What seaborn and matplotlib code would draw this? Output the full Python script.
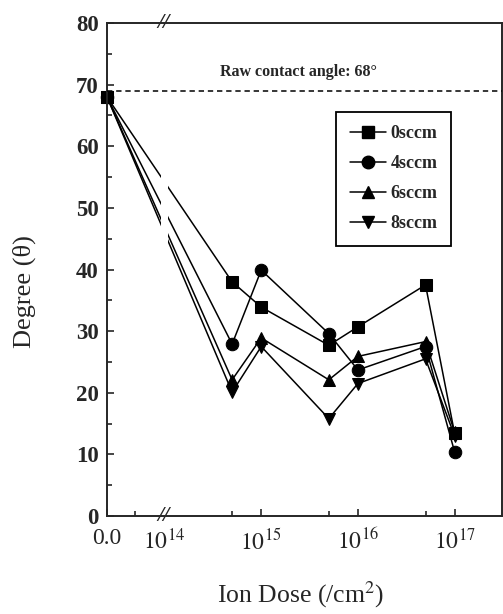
#!/usr/bin/env python3

import numpy as np
import matplotlib
matplotlib.use("Agg")
import matplotlib.pyplot as plt
import matplotlib.ticker as mticker
import matplotlib.transforms as mtransforms
from matplotlib.lines import Line2D
import seaborn as sns
import pandas as pd

sns.set_style("ticks")
plt.rcParams['font.family'] = ['Liberation Serif', 'DejaVu Serif']
plt.rcParams['mathtext.fontset'] = 'stix'

# ion dose (/cm2), 0 = untreated sample
dose = [0, 5e14, 1e15, 5e15, 1e16, 5e16, 1e17]
gas_flow = ["0sccm", "4sccm", "6sccm", "8sccm"]
deg_0sccm = [68, 38.0, 33.9, 27.7, 30.7, 37.5, 13.4]
deg_4sccm = [68, 27.9, 39.9, 29.6, 23.7, 27.5, 10.4]
deg_6sccm = [68, 22.1, 28.9, 22.1, 25.9, 28.3, 13.6]
deg_8sccm = [68, 20.1, 27.5, 15.8, 21.5, 25.5, 13.0]
raw_angle = 68

xticks = [0, 1e14, 1e15, 1e16, 1e17]
xticklabels = ["0.0", "$10^{14}$", "$10^{15}$", "$10^{16}$", "$10^{17}$"]
xminor = [5e13, 5e14, 5e15, 5e16]

OFFSET = 0.595  # position of 1e14 (in decades) right of the 0.0 point


def forward(d):
    d = np.asarray(d, dtype=float)
    p = OFFSET + np.log10(np.maximum(d, 1e-300)) - 14
    return np.where(d > 0, np.maximum(p, 0), 0)


def inverse(p):
    p = np.asarray(p, dtype=float)
    return np.where(p > 0, 10 ** (np.minimum(p, 300) - OFFSET + 14), 0)


def main():
    rows = []
    for name, vals in zip(gas_flow, [deg_0sccm, deg_4sccm, deg_6sccm, deg_8sccm]):
        for d, v in zip(dose, vals):
            rows.append({"dose": d, "degree": v, "gas": name})
    df = pd.DataFrame(rows)

    fig = plt.figure(figsize=(5.03, 6.14), dpi=100)
    ax = fig.add_axes([107 / 503, 1 - 516 / 614, 395 / 503, 493 / 614])
    ax.set_xscale('function', functions=(forward, inverse))

    markers = {"0sccm": "s", "4sccm": "o", "6sccm": "^", "8sccm": "v"}
    sns.lineplot(
        data=df, x="dose", y="degree", style="gas", markers=markers,
        dashes=False, color="black", markersize=9, markeredgecolor="black",
        linewidth=1.1, ax=ax, clip_on=False, legend=False,
    )

    # axis break: white gap over the lines around 1e14
    ax.axvspan(10 ** (14 - 0.035), 10 ** (14 + 0.035), color="white", zorder=2.2, lw=0)
    trans = mtransforms.blended_transform_factory(ax.transData, ax.transAxes)
    for yy in (0, 1):
        ax.text(10 ** (14 - 0.01), yy, "//", transform=trans, ha="center", va="center",
                fontsize=16, fontweight="bold", fontstyle="italic", zorder=4, clip_on=False)

    ax.axhline(raw_angle + 1, color="black", ls=(0, (3.5, 2.5)), lw=1.1, zorder=3)
    ax.text(0.485, 0.9, "Raw contact angle: 68\u00b0", transform=ax.transAxes,
            ha="center", va="center", fontsize=11.5, fontweight="bold")

    ax.set_xlim(0, 10 ** (17.49))
    ax.set_ylim(0, 80)
    ax.xaxis.set_major_locator(mticker.FixedLocator(xticks))
    ax.xaxis.set_major_formatter(mticker.FixedFormatter(xticklabels))
    ax.xaxis.set_minor_locator(mticker.FixedLocator(xminor))
    ax.yaxis.set_major_locator(mticker.MultipleLocator(10))
    ax.yaxis.set_minor_locator(mticker.MultipleLocator(5))
    ax.tick_params(which="both", direction="in", width=1.2, top=False, right=False)
    ax.tick_params(which="major", length=5)
    ax.tick_params(which="minor", length=3.5)
    ax.tick_params(axis="y", labelsize=16.5, pad=6)
    ax.tick_params(axis="x", labelsize=17, pad=9)
    for lab in ax.get_yticklabels():
        lab.set_fontweight("bold")

    for s in ax.spines.values():
        s.set_linewidth(1.4)

    ax.set_xlabel("Ion Dose (/cm$^2$)", fontsize=18.5)
    ax.set_ylabel("Degree (\u03b8)", fontsize=19)
    ax.xaxis.set_label_coords(0.49, -0.128)
    ax.yaxis.set_label_coords(-0.18, 0.455)

    handles = [Line2D([], [], color="black", lw=1.1, marker=markers[g], markersize=9)
               for g in gas_flow]
    leg = ax.legend(handles, gas_flow, loc="upper left", bbox_to_anchor=(0.58, 0.82),
                    borderaxespad=0, fancybox=False, edgecolor="black",
                    prop={"family": "Liberation Serif", "weight": "bold", "size": 13},
                    handlelength=2.0, handletextpad=0.25, labelspacing=0.72,
                    borderpad=0.75, framealpha=1)
    leg.get_frame().set_linewidth(1.3)

    plt.savefig("out.png", dpi=100)
    plt.close()


if __name__ == '__main__':
    main()
